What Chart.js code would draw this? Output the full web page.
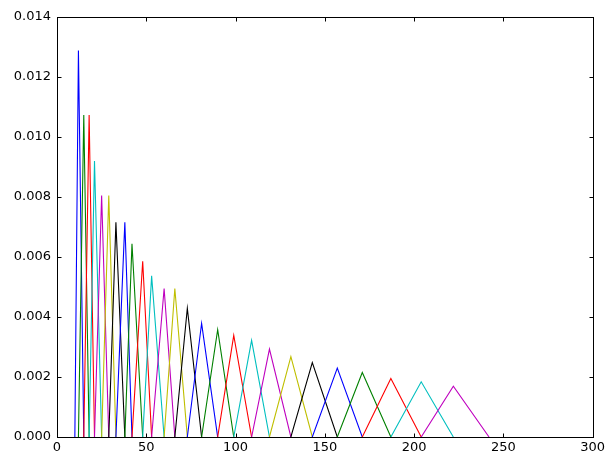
<!DOCTYPE html>
<html>
<head>
<meta charset="utf-8">
<script src="https://cdn.jsdelivr.net/npm/chart.js@4/dist/chart.umd.min.js"></script>
<style>
  html, body { margin: 0; padding: 0; background: #ffffff; }
  #wrap { width: 608px; height: 456px; position: relative; }
</style>
</head>
<body>
<div id="wrap"><canvas id="c" width="608" height="456"></canvas></div>
<script>
// Filter edge points (x, bins): triangle i goes edges[i] -> edges[i+1] (peak) -> edges[i+2]
const filterEdges = [10, 12, 15, 18, 21, 25, 29, 33, 38, 42, 48, 53, 60, 66, 73, 81, 90, 99, 109, 119, 131, 143, 157, 171, 187, 204, 222, 242];
// Peak heights of each triangle
const peakHeights = [0.01288, 0.01073, 0.01073, 0.00920, 0.00805, 0.00805, 0.00716, 0.00716, 0.00644, 0.00586, 0.00537, 0.00495, 0.00495, 0.00429, 0.00379, 0.00358, 0.00339, 0.00322, 0.00293, 0.00268, 0.00248, 0.00230, 0.00215, 0.00195, 0.00184, 0.00169];
// matplotlib classic colour cycle
const cycleColors = ['#0000ff', '#008000', '#ff0000', '#00bfbf', '#bf00bf', '#bfbf00', '#000000'];
const xTicks = [0, 50, 100, 150, 200, 250, 300];
const yTicks = [0, 0.002, 0.004, 0.006, 0.008, 0.010, 0.012, 0.014];

const n = peakHeights.length;
const datasets = peakHeights.map((h, i) => ({
  data: [
    { x: filterEdges[i], y: 0 },
    { x: filterEdges[i + 1], y: h },
    { x: filterEdges[i + 2], y: 0 }
  ],
  borderColor: cycleColors[i % cycleColors.length],
  borderWidth: 1.1,
  pointRadius: 0,
  fill: false,
  tension: 0,
  order: n - i
}));

const frameTicks = {
  id: 'frameTicks',
  afterDraw(chart) {
    const ctx = chart.ctx;
    const a = chart.chartArea;
    const xs = chart.scales.x, ys = chart.scales.y;
    ctx.save();
    ctx.strokeStyle = '#000000';
    ctx.lineWidth = 1;
    const L = Math.round(a.left) + 0.5, R = Math.round(a.right) + 0.5;
    const T = Math.round(a.top) + 0.5, B = Math.round(a.bottom) + 0.5;
    ctx.strokeRect(L, T, R - L, B - T);
    const len = 4;
    ctx.beginPath();
    xTicks.forEach(v => {
      const px = Math.round(xs.getPixelForValue(v)) + 0.5;
      ctx.moveTo(px, B); ctx.lineTo(px, B - len);
      ctx.moveTo(px, T); ctx.lineTo(px, T + len);
    });
    yTicks.forEach(v => {
      const py = Math.round(ys.getPixelForValue(v)) + 0.5;
      ctx.moveTo(L, py); ctx.lineTo(L + len, py);
      ctx.moveTo(R, py); ctx.lineTo(R - len, py);
    });
    ctx.stroke();
    ctx.restore();
  }
};

const font = { family: 'DejaVu Sans', size: 13 };

new Chart(document.getElementById('c'), {
  type: 'line',
  data: { datasets },
  options: {
    responsive: false,
    animation: false,
    layout: { padding: { top: 17, right: 14, left: 0, bottom: 0 } },
    plugins: { legend: { display: false }, tooltip: { enabled: false } },
    scales: {
      x: {
        type: 'linear',
        min: 0, max: 300,
        afterFit(s) { s.height = 19; },
        afterBuildTicks(s) { s.ticks = xTicks.map(v => ({ value: v })); },
        ticks: { color: '#000000', font, padding: 3, maxRotation: 0, callback: v => String(v) },
        grid: { display: false, drawTicks: false },
        border: { display: false }
      },
      y: {
        type: 'linear',
        min: 0, max: 0.014,
        afterFit(s) { s.width = 57; },
        afterBuildTicks(s) { s.ticks = yTicks.map(v => ({ value: v })); },
        ticks: { color: '#000000', font, padding: 6, callback: v => Number(v).toFixed(3) },
        grid: { display: false, drawTicks: false },
        border: { display: false }
      }
    }
  },
  plugins: [frameTicks]
});
</script>
</body>
</html>
